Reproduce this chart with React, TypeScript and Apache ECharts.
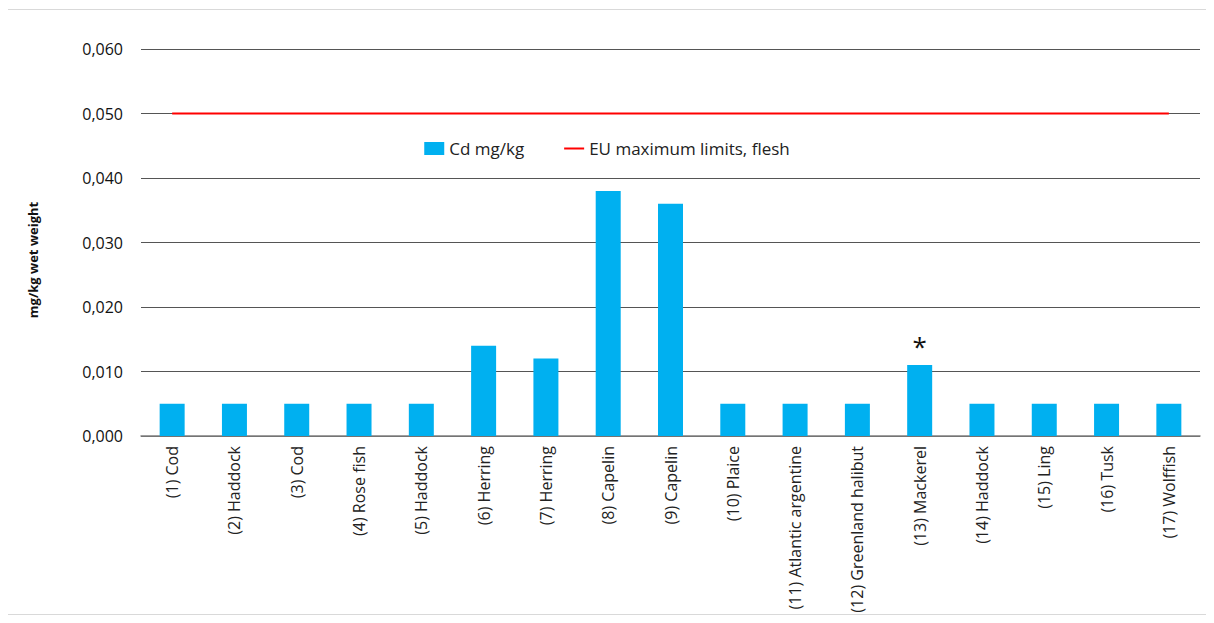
import React, { useEffect, useRef } from "react";
import * as echarts from "echarts";

const categories = [
  "(1) Cod", "(2) Haddock", "(3) Cod", "(4) Rose fish", "(5) Haddock",
  "(6) Herring", "(7) Herring", "(8) Capelin", "(9) Capelin", "(10) Plaice",
  "(11) Atlantic argentine", "(12) Greenland halibut", "(13) Mackerel",
  "(14) Haddock", "(15) Ling", "(16) Tusk", "(17) Wolffish",
];
const cdValues = [0.005, 0.005, 0.005, 0.005, 0.005, 0.014, 0.012, 0.038, 0.036, 0.005, 0.005, 0.005, 0.011, 0.005, 0.005, 0.005, 0.005];
const euLimit = [0.05, 0.05, 0.05, 0.05, 0.05, 0.05, 0.05, 0.05, 0.05, 0.05, 0.05, 0.05, 0.05, 0.05, 0.05, 0.05, 0.05];
const starredIndex = 12;
const yAxisTitle = "mg/kg wet weight";

const FONT = "'Open Sans', 'Liberation Sans', sans-serif";

export default function App() {
  const ref = useRef<HTMLDivElement>(null);
  useEffect(() => {
    if (!ref.current) return;
    const chart = echarts.init(ref.current, null, { renderer: "svg" });
    chart.setOption({
      animation: false,
      textStyle: { fontFamily: FONT },
      graphic: [
        {
          type: "rect",
          shape: { x: 7.5, y: 9.5, width: 1199, height: 605 },
          style: { fill: "none", stroke: "#d9d9d9", lineWidth: 1 },
          silent: true,
        },
        {
          type: "text",
          x: 33,
          y: 260,
          rotation: Math.PI / 2,
          style: {
            text: yAxisTitle,
            align: "center",
            verticalAlign: "middle",
            font: `bold 13px ${FONT}`,
            fill: "#111",
          },
        },
      ],
      legend: {
        top: 135,
        left: "center",
        itemGap: 40,
        itemWidth: 20,
        itemHeight: 13,
        itemStyle: {},
        textStyle: { fontSize: 17, color: "#222", fontFamily: FONT },
        data: [
          { name: "Cd mg/kg", icon: "rect" },
          { name: "EU maximum limits, flesh", icon: "path://M0,0H20V2H0Z" },
        ],
      },
      grid: { left: 141, right: 14, top: 49, bottom: 187, containLabel: false },
      xAxis: {
        type: "category",
        data: categories,
        axisTick: { show: false },
        axisLine: { lineStyle: { color: "#7f7f7f", width: 1.5 } },
        axisLabel: { rotate: 90, fontSize: 16, color: "#222", margin: 10, fontFamily: FONT, interval: 0 },
      },
      yAxis: {
        type: "value",
        min: 0,
        max: 0.06,
        interval: 0.01,
        axisLabel: {
          fontSize: 16,
          color: "#111",
          margin: 18,
          formatter: (v: number) => v.toFixed(3).replace(".", ","),
        },
        splitLine: { lineStyle: { color: "#555", width: 1 } },
        axisLine: { show: false },
        axisTick: { show: false },
      },
      series: [
        {
          name: "Cd mg/kg",
          type: "bar",
          barWidth: 25,
          itemStyle: { color: "#00b0f0" },
          data: cdValues.map((v, i) =>
            i === starredIndex
              ? { value: v, label: { show: true, position: "top", formatter: "*", fontSize: 26, color: "#111", distance: 6 } }
              : v
          ),
        },
        {
          name: "EU maximum limits, flesh",
          type: "line",
          data: euLimit,
          symbol: "none",
          lineStyle: { color: "#ff0000", width: 2 },
          itemStyle: { color: "#ff0000" },
        },
      ],
    });
    return () => chart.dispose();
  }, []);
  return (
    <div style={{ position: "relative", width: 1214, height: 623, margin: -8, background: "#fff" }}>
      <div ref={ref} style={{ position: "absolute", left: 0, top: 0, width: 1214, height: 623 }} />
    </div>
  );
}
